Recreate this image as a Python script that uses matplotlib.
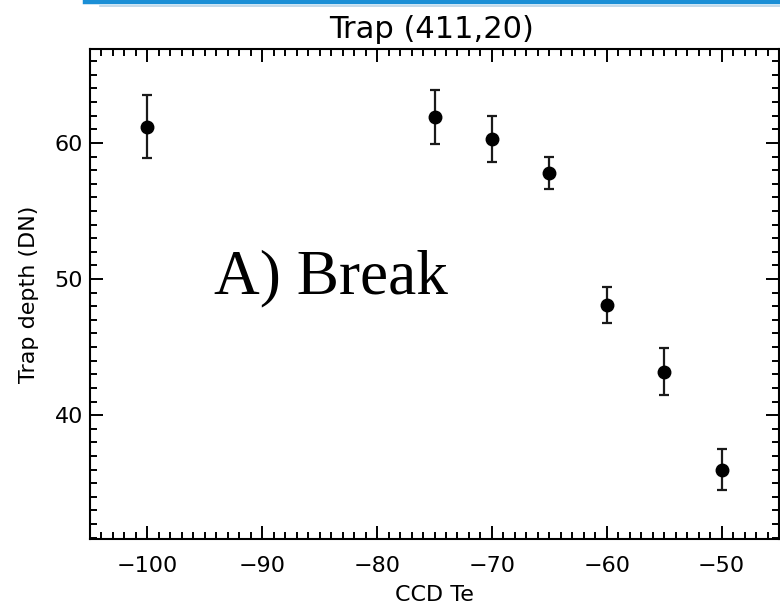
import matplotlib
matplotlib.use("Agg")
import matplotlib.pyplot as plt
from matplotlib.lines import Line2D
from matplotlib.ticker import MultipleLocator

# Data
temps = [-100, -75, -70, -65, -60, -55, -50]
depth = [61.2, 61.9, 60.3, 57.8, 48.1, 43.2, 36.0]
err = [2.3, 2.0, 1.7, 1.2, 1.3, 1.7, 1.5]
xticks = [-100, -90, -80, -70, -60, -50]
yticks = [40, 50, 60]

W, H = 780, 609
fig = plt.figure(figsize=(W / 100, H / 100), dpi=100)

# slide-style blue rule at top
fig.add_artist(Line2D([85 / W, 1], [1 - 2 / H, 1 - 2 / H], color="#1b8fd6", lw=3.2))
fig.add_artist(Line2D([100 / W, 1], [1 - 5.5 / H, 1 - 5.5 / H], color="#b9d3e6", lw=1.2))

left, right, top, bottom = 90, 779, 49, 539
ax = fig.add_axes([left / W, 1 - bottom / H, (right - left) / W, (bottom - top) / H])

ax.errorbar(temps, depth, yerr=err, fmt="o", color="black", ecolor="#1a1a1a",
            ms=9, elinewidth=1.6, capsize=3.5, capthick=1.6)

ax.set_xlim(-105, -45)
ax.set_ylim(30.9, 66.9)
ax.set_xticks(xticks)
ax.set_yticks(yticks)
ax.xaxis.set_minor_locator(MultipleLocator(1))
ax.yaxis.set_minor_locator(MultipleLocator(1))
ax.set_xticklabels([f"\u2212{abs(v)}" for v in xticks])
ax.tick_params(which="both", direction="in", top=True, right=True, width=1.4, colors="black")
ax.tick_params(which="major", length=9.5, labelsize=16)
ax.tick_params(axis="x", which="major", pad=12)
ax.tick_params(axis="y", which="major", pad=5)
ax.tick_params(which="minor", length=5)
for s in ax.spines.values():
    s.set_linewidth(1.5)

ax.set_xlabel("CCD Te", fontsize=16, labelpad=7)
ax.set_ylabel("Trap depth (DN)", fontsize=16, labelpad=11)

fig.text(432 / W, 1 - 29 / H, "Trap (411,20)", fontsize=22, ha="center", va="center")

ax.text(214, H - 293, "A) Break", transform=None, fontsize=45.5, family="Liberation Serif",
        ha="left", va="baseline")

fig.savefig("out.png", dpi=100)
